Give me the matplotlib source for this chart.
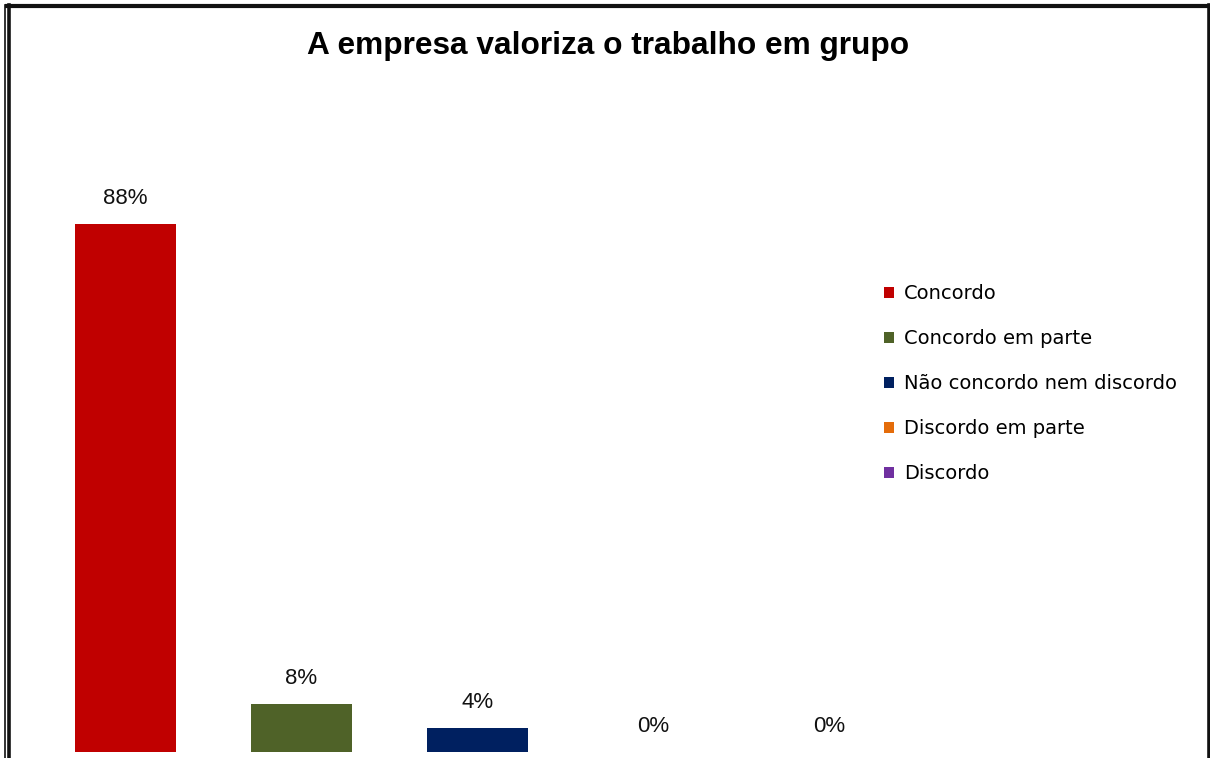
import matplotlib
matplotlib.use("Agg")
import matplotlib.pyplot as plt
from matplotlib.patches import Patch

# ---------------- data ----------------
title = "A empresa valoriza o trabalho em grupo"
categories = ["Concordo", "Concordo em parte", "Não concordo nem discordo",
              "Discordo em parte", "Discordo"]
values = [88, 8, 4, 0, 0]
colors = ["#c00000", "#4f6228", "#002060", "#e46c0a", "#7030a0"]

# ---------------- figure ----------------
W, H = 1210, 758
fig = plt.figure(figsize=(W / 100, H / 100), dpi=100)
fig.patch.set_facecolor("white")

# plot area: baseline at y=752px, category step 176px, first center at 125.5px
base_px = 752
step = 176.0
x0 = 125.5
px_per_pct = 6.0
ax = fig.add_axes([0, (H - base_px) / H, 1, base_px / H])
ax.set_xlim(-x0 / step, (W - x0) / step)
ax.set_ylim(0, base_px / px_per_pct)
ax.axis("off")

xs = list(range(len(categories)))
bars = ax.bar(xs, values, width=101 / step, color=colors, label=categories)

for x, v in zip(xs, values):
    ax.text(x, v + 4.2, f"{v}%", ha="center", va="center",
            fontsize=16, family="Liberation Sans", color="#111111")

# legend
handles = [Patch(facecolor=c, edgecolor="none") for c in colors]
leg = fig.legend(handles, categories, loc="upper left",
                 bbox_to_anchor=(884 / W, 1 - 284 / H),
                 frameon=False, prop={"family": "DejaVu Sans", "size": 14},
                 handlelength=0.5, handleheight=0.5, handletextpad=0.52,
                 labelspacing=1.34, borderaxespad=0, borderpad=0)

# title
fig.text(608 / W, 1 - 46 / H, title, ha="center", va="center",
         fontsize=22.8, fontweight="bold", family="Liberation Sans")

# outer frame
frame = fig.add_axes([0, 0, 1, 1], zorder=-1)
frame.set_xlim(0, W)
frame.set_ylim(H, 0)
frame.axis("off")
frame.plot([5, W], [5.5, 5.5], color="#111111", lw=3.0, solid_capstyle="butt")
frame.plot([4.5, 4.5], [5, H], color="#111111", lw=1.2)
frame.plot([8.5, 8.5], [5, H], color="#111111", lw=2.6)
frame.plot([1208.5, 1208.5], [5, H], color="#111111", lw=2.6)

fig.savefig("out.png", dpi=100)
